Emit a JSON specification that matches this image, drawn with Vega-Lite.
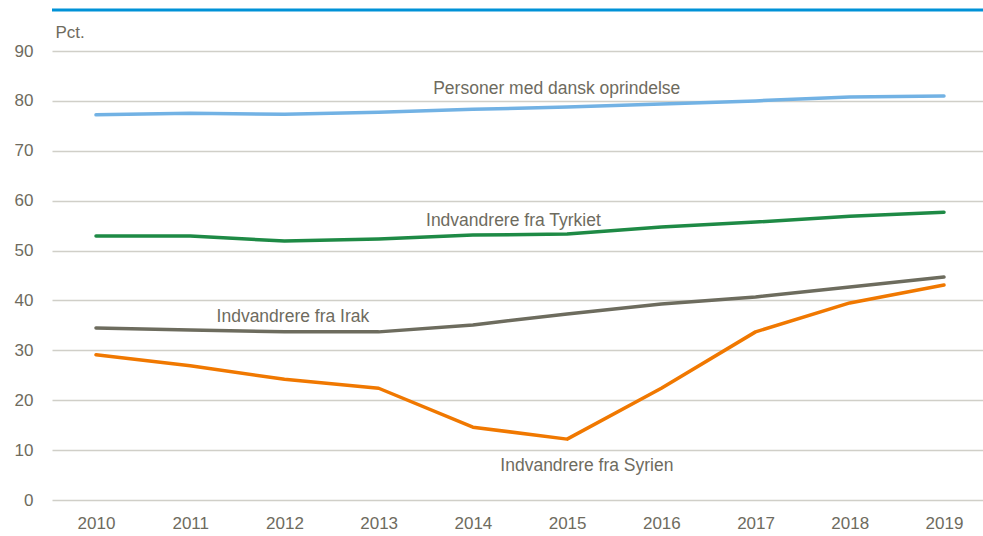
{
  "$schema": "https://vega.github.io/schema/vega-lite/v6.json",
  "width": 931,
  "height": 449,
  "autosize": {"type": "none"},
  "padding": {"left": 52, "top": 51, "right": 0, "bottom": 36},
  "background": "white",
  "config": {
    "view": {"stroke": null},
    "font": "Liberation Sans",
    "axis": {"labelFont": "Liberation Sans", "titleFont": "Liberation Sans", "labelColor": "#6E6B5E", "titleColor": "#6E6B5E", "labelFontSize": 17, "titleFontSize": 17, "titleFontWeight": "normal"}
  },
  "datasets": {
    "lines": [
      {"series": "Personer med dansk oprindelse", "year": 2010, "value": 77.2},
      {"series": "Personer med dansk oprindelse", "year": 2011, "value": 77.5},
      {"series": "Personer med dansk oprindelse", "year": 2012, "value": 77.3},
      {"series": "Personer med dansk oprindelse", "year": 2013, "value": 77.7},
      {"series": "Personer med dansk oprindelse", "year": 2014, "value": 78.3},
      {"series": "Personer med dansk oprindelse", "year": 2015, "value": 78.8},
      {"series": "Personer med dansk oprindelse", "year": 2016, "value": 79.4},
      {"series": "Personer med dansk oprindelse", "year": 2017, "value": 80.0},
      {"series": "Personer med dansk oprindelse", "year": 2018, "value": 80.8},
      {"series": "Personer med dansk oprindelse", "year": 2019, "value": 81.0},
      {"series": "Indvandrere fra Tyrkiet", "year": 2010, "value": 52.9},
      {"series": "Indvandrere fra Tyrkiet", "year": 2011, "value": 52.9},
      {"series": "Indvandrere fra Tyrkiet", "year": 2012, "value": 51.9},
      {"series": "Indvandrere fra Tyrkiet", "year": 2013, "value": 52.3},
      {"series": "Indvandrere fra Tyrkiet", "year": 2014, "value": 53.1},
      {"series": "Indvandrere fra Tyrkiet", "year": 2015, "value": 53.3},
      {"series": "Indvandrere fra Tyrkiet", "year": 2016, "value": 54.7},
      {"series": "Indvandrere fra Tyrkiet", "year": 2017, "value": 55.7},
      {"series": "Indvandrere fra Tyrkiet", "year": 2018, "value": 56.9},
      {"series": "Indvandrere fra Tyrkiet", "year": 2019, "value": 57.7},
      {"series": "Indvandrere fra Irak", "year": 2010, "value": 34.5},
      {"series": "Indvandrere fra Irak", "year": 2011, "value": 34.1},
      {"series": "Indvandrere fra Irak", "year": 2012, "value": 33.7},
      {"series": "Indvandrere fra Irak", "year": 2013, "value": 33.7},
      {"series": "Indvandrere fra Irak", "year": 2014, "value": 35.1},
      {"series": "Indvandrere fra Irak", "year": 2015, "value": 37.3},
      {"series": "Indvandrere fra Irak", "year": 2016, "value": 39.3},
      {"series": "Indvandrere fra Irak", "year": 2017, "value": 40.7},
      {"series": "Indvandrere fra Irak", "year": 2018, "value": 42.7},
      {"series": "Indvandrere fra Irak", "year": 2019, "value": 44.7},
      {"series": "Indvandrere fra Syrien", "year": 2010, "value": 29.1},
      {"series": "Indvandrere fra Syrien", "year": 2011, "value": 26.9},
      {"series": "Indvandrere fra Syrien", "year": 2012, "value": 24.2},
      {"series": "Indvandrere fra Syrien", "year": 2013, "value": 22.4},
      {"series": "Indvandrere fra Syrien", "year": 2014, "value": 14.6},
      {"series": "Indvandrere fra Syrien", "year": 2015, "value": 12.2},
      {"series": "Indvandrere fra Syrien", "year": 2016, "value": 22.4},
      {"series": "Indvandrere fra Syrien", "year": 2017, "value": 33.7},
      {"series": "Indvandrere fra Syrien", "year": 2018, "value": 39.5},
      {"series": "Indvandrere fra Syrien", "year": 2019, "value": 43.1}
    ],
    "labels": [
      {"label": "Personer med dansk oprindelse", "year": 2014.89, "value": 82.4},
      {"label": "Indvandrere fra Tyrkiet", "year": 2014.43, "value": 55.9},
      {"label": "Indvandrere fra Irak", "year": 2012.09, "value": 36.7},
      {"label": "Indvandrere fra Syrien", "year": 2015.21, "value": 6.8}
    ],
    "top": [{"value": 98.2}]
  },
  "layer": [
    {
      "data": {"name": "lines"},
      "mark": {"type": "line", "strokeWidth": 3.5, "strokeCap": "round", "strokeJoin": "round"},
      "encoding": {
        "x": {
          "field": "year", "type": "quantitative",
          "scale": {"domain": [2009.533, 2019.414], "nice": false, "zero": false},
          "axis": {"values": [2010, 2011, 2012, 2013, 2014, 2015, 2016, 2017, 2018, 2019], "format": "d", "grid": false, "domain": false, "ticks": false, "labelPadding": 15, "title": null, "labelFlush": false}
        },
        "y": {
          "field": "value", "type": "quantitative",
          "scale": {"domain": [0, 90], "nice": false},
          "axis": {"values": [0, 10, 20, 30, 40, 50, 60, 70, 80, 90], "grid": true, "gridColor": "#D0CFC8", "gridWidth": 1.5, "domain": false, "ticks": false, "labelPadding": 19, "title": "Pct.", "titleAngle": 0, "titleAlign": "left", "titleX": 3, "titleY": -14, "titleBaseline": "alphabetic"}
        },
        "color": {
          "field": "series", "type": "nominal", "legend": null,
          "scale": {
            "domain": ["Personer med dansk oprindelse", "Indvandrere fra Tyrkiet", "Indvandrere fra Irak", "Indvandrere fra Syrien"],
            "range": ["#72B2E4", "#1E8A45", "#6D6C5E", "#F07800"]
          }
        }
      }
    },
    {
      "data": {"name": "labels"},
      "mark": {"type": "text", "font": "Liberation Sans", "fontSize": 17.5, "color": "#6E6B5E", "align": "center", "baseline": "middle"},
      "encoding": {
        "x": {"field": "year", "type": "quantitative"},
        "y": {"field": "value", "type": "quantitative"},
        "text": {"field": "label"}
      }
    },
    {
      "data": {"name": "top"},
      "mark": {"type": "rule", "color": "#0092D7", "strokeWidth": 3},
      "encoding": {
        "y": {"field": "value", "type": "quantitative"}
      }
    }
  ]
}
